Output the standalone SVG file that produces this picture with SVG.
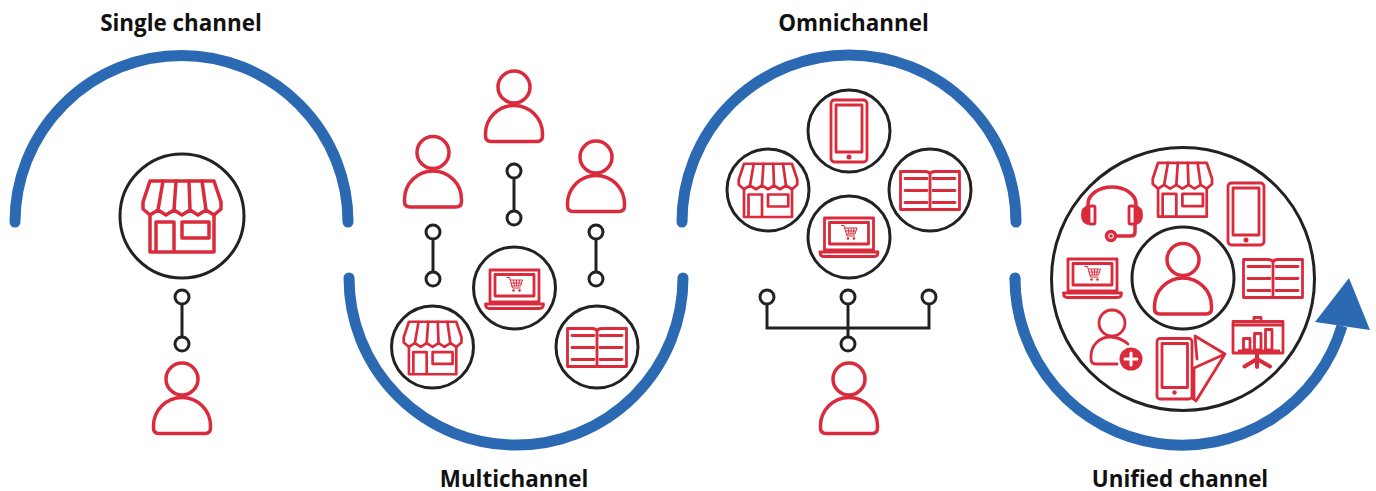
<svg xmlns="http://www.w3.org/2000/svg" width="1376" height="491" viewBox="0 0 1376 491">
<style>
.t{font-family:"Open Sans","Liberation Sans",sans-serif;font-weight:700;font-size:22.400px;fill:#111;text-anchor:middle}
.arc{fill:none;stroke:#2b6ab3;stroke-width:11;stroke-linecap:round}
.ring{fill:#fff;stroke:#222;stroke-width:3}
.ln{fill:none;stroke:#222;stroke-width:3}
.dot{fill:#fff;stroke:#222;stroke-width:3}
.r{fill:none;stroke:#d92b3c;stroke-width:3.500;stroke-linejoin:round;stroke-linecap:round}
.r2{fill:none;stroke:#d92b3c;stroke-width:2.800;stroke-linejoin:round;stroke-linecap:round}
.thin{fill:none;stroke:#d92b3c;stroke-width:1}
.f{fill:#d92b3c}
</style>
<defs>
<g id="store">
<path d="M8,1H72L79,22V29L72,35L64,30L56,35L48,30L40,35L32,30L24,35L16,30L8,35L1,29V22Z"/>
<path d="M21,1L16,30M34,1L32,30M47,1L48,30M60,1L64,30"/>
<path d="M8,35V72H72V35M14,72V42H32V72M40,42H67V58H40Z"/>
</g>
<g id="person">
<circle cx="0" cy="16.500" r="16"/>
<path d="M-28.500,63.500A28.500,28.500 0 0 1 28.500,63.500V65.500Q28.500,71 23,71H-23Q-28.500,71 -28.500,65.500Z"/>
</g>
<g id="laptop">
<path class="r2" d="M-24.500,1H24.500V33H-24.500ZM-19.500,5.500H19.500V27H-19.500Z"/>
<path class="r2" d="M-29,35H29Q29,39.500 25,39.500H-25Q-29,39.500 -29,35Z"/>
<path class="thin" d="M-8,8.500H-5L-2,19H6M-4.500,11H8L6,17H-3M-1,11L0,17M2,11V17M5,11L4,17M-4,14H7"/>
<circle class="f" cx="-1" cy="21.500" r="1.300"/><circle class="f" cx="5" cy="21.500" r="1.300"/>
</g>
<g id="phone">
<rect class="r2" x="-18" y="1" width="36" height="62" rx="3.500"/>
<rect class="r2" x="-13" y="6" width="26" height="47"/>
<circle class="f" cx="0" cy="58" r="2.500"/>
</g>
<g id="book">
<path class="r2" d="M-29.500,1.500H-5Q-1,1.500 0,4Q1,1.500 5,1.500H29.500V39.500H-29.500ZM0,4V39.500"/>
<path class="r2" d="M-25,8.500H-3M3,8.500H25M-25,20.500H-3M3,20.500H25M-25,32.500H-3M3,32.500H25"/>
</g>
</defs>

<g id="labels">
<text class="t" x="181" y="31">Single channel</text>
<text class="t" x="514" y="487">Multichannel</text>
<text class="t" x="853.500" y="31">Omnichannel</text>
<text class="t" x="1180" y="487">Unified channel</text>
</g>

<g id="arcs">
<path class="arc" d="M15,222A166.500,166.500 0 0 1 348,222"/>
<path class="arc" d="M349,278A167,167 0 0 0 683,278"/>
<path class="arc" d="M682,222A167,167 0 0 1 1016,222"/>
<circle cx="1015" cy="278" r="5.500" fill="#2b6ab3"/>
<path class="arc" style="stroke-linecap:butt" d="M1015,278A167,167 0 0 0 1342,326"/>
<polygon points="1349,278 1315,322 1370,330" fill="#2b6ab3"/>
</g>

<g id="connectors">
<path class="ln" d="M182,304V337M514,178V211M433,239V272M596,239V272M767,304V328H929V304M848,304V337"/>
<circle class="dot" cx="182" cy="297" r="7"/><circle class="dot" cx="182" cy="344" r="7"/>
<circle class="dot" cx="514" cy="171" r="7"/><circle class="dot" cx="514" cy="218" r="7"/>
<circle class="dot" cx="433" cy="232" r="7"/><circle class="dot" cx="433" cy="279" r="7"/>
<circle class="dot" cx="596" cy="232" r="7"/><circle class="dot" cx="596" cy="279" r="7"/>
<circle class="dot" cx="767" cy="297" r="7"/><circle class="dot" cx="848" cy="297" r="7"/><circle class="dot" cx="929" cy="297" r="7"/><circle class="dot" cx="848" cy="344" r="7"/>
</g>

<g id="single-store"><circle class="ring" cx="182" cy="216" r="62"/><use href="#store" class="r" transform="translate(142,180)"/></g>
<g id="single-person"><use href="#person" class="r" transform="translate(182,362.500)"/></g>

<g id="multi-person-1"><use href="#person" class="r" transform="translate(514,70.500)"/></g>
<g id="multi-person-2"><use href="#person" class="r" transform="translate(433,136)"/></g>
<g id="multi-person-3"><use href="#person" class="r" transform="translate(596,140.500)"/></g>
<g id="multi-laptop"><circle class="ring" cx="514.500" cy="288" r="41"/><use href="#laptop" transform="translate(514.500,269)"/></g>
<g id="multi-store"><circle class="ring" cx="432.500" cy="347" r="41"/><use href="#store" class="r" style="stroke-width:3.600" transform="translate(403,321) scale(.74)"/></g>
<g id="multi-book"><circle class="ring" cx="597" cy="347" r="41"/><use href="#book" transform="translate(597,327)"/></g>

<g id="omni-phone"><circle class="ring" cx="849" cy="131" r="41"/><use href="#phone" transform="translate(849,99)"/></g>
<g id="omni-store"><circle class="ring" cx="768" cy="190" r="41"/><use href="#store" class="r" style="stroke-width:3.600" transform="translate(738,163) scale(.75)"/></g>
<g id="omni-book"><circle class="ring" cx="930" cy="190" r="41"/><use href="#book" transform="translate(930,170)"/></g>
<g id="omni-laptop"><circle class="ring" cx="849" cy="237" r="41"/><use href="#laptop" transform="translate(849,217)"/></g>
<g id="omni-person"><use href="#person" class="r" transform="translate(849,362.500)"/></g>

<g id="unified-circle"><circle class="ring" cx="1183" cy="279" r="131.500"/></g>
<g id="unified-person"><circle class="ring" cx="1183" cy="278" r="51"/><use href="#person" class="r" transform="translate(1183,243)"/></g>
<g id="unified-store"><use href="#store" class="r" style="stroke-width:3.600" transform="translate(1152,162) scale(.76)"/></g>
<g id="unified-phone"><use href="#phone" transform="translate(1246,182)"/></g>
<g id="unified-book"><use href="#book" transform="translate(1273,258)"/></g>
<g id="unified-laptop"><use href="#laptop" transform="translate(1092.500,258)"/></g>
<g id="unified-headset">
<path class="r" d="M1088,205V204A24,17 0 0 1 1136,204V205M1135,225V232Q1135,236 1131,236H1116"/>
<rect class="r2" x="1089" y="206" width="6" height="18" rx="1.500"/>
<rect class="r2" x="1129" y="206" width="6" height="18" rx="1.500"/>
<path class="f" d="M1088,205V225Q1081,223 1081,215Q1081,207 1088,205ZM1136,205V225Q1143,223 1143,215Q1143,207 1136,205Z"/>
<circle class="r" cx="1111" cy="236" r="4.500"/><circle class="f" cx="1111" cy="236" r="1.800"/>
</g>
<g id="unified-adduser">
<circle class="r2" cx="1112" cy="323" r="13"/>
<path class="r2" d="M1117,364H1096Q1091,364 1091,359V356A19,19 0 0 1 1110,337Q1120,337 1128,344"/>
<circle class="f" cx="1131" cy="359" r="11.500"/>
<path d="M1125,359H1137M1131,353V365" stroke="#fff" stroke-width="3" stroke-linecap="round" fill="none"/>
</g>
<g id="unified-tablet">
<rect class="r2" x="1157" y="338.500" width="35" height="60.500" rx="3"/>
<rect class="r2" x="1162" y="343.500" width="25.500" height="44"/>
<circle class="f" cx="1174.500" cy="392.500" r="2.200"/>
<path class="r2" d="M1195,336L1225,354L1196,401L1192,398M1194,368L1225,354M1195,336L1197,359M1194,368V399"/>
</g>
<g id="unified-board">
<path class="r2" d="M1233,321.500H1283V353H1233ZM1233,325H1283M1254,321V317.500H1261V321"/>
<path class="r2" d="M1243.500,338.500H1250V350H1243.500ZM1254.500,333.500H1261V350H1254.500ZM1265.500,329.500H1272V350H1265.500Z"/>
<rect class="f" x="1238" y="349.500" width="42" height="4"/>
<path d="M1257,354V367M1244.500,366.500L1257,359L1270,366.500" fill="none" stroke="#d92b3c" stroke-width="4" stroke-linecap="round" stroke-linejoin="round"/>
</g>
</svg>
